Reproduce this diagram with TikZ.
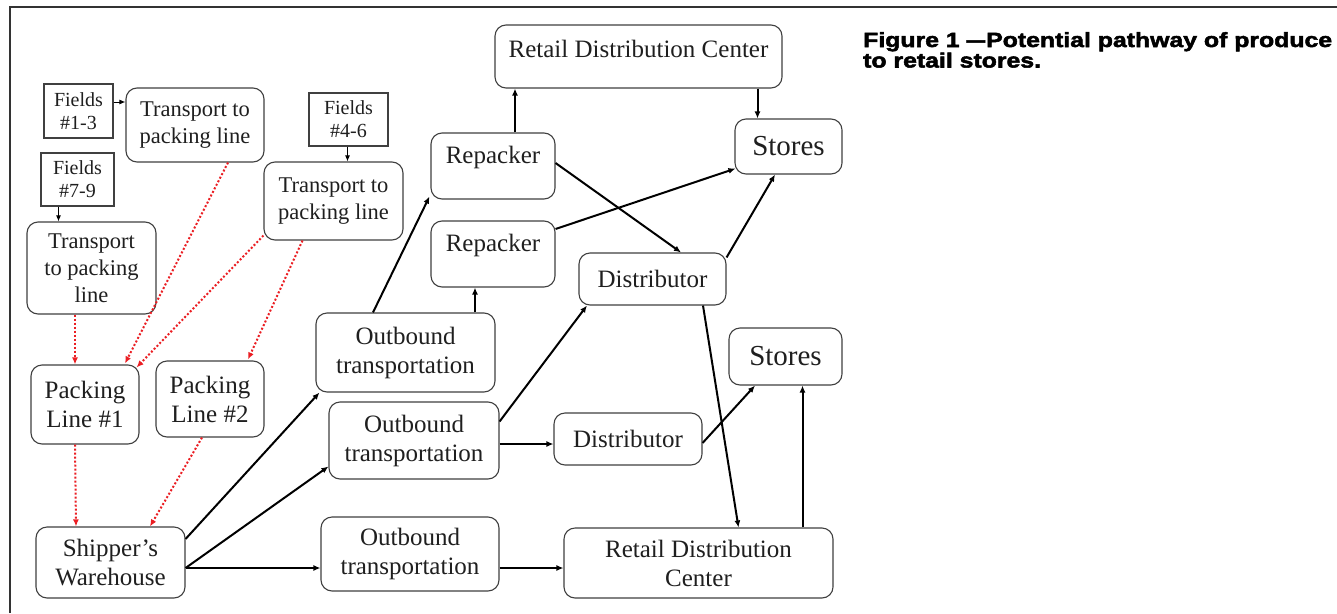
\documentclass[tikz,border=0pt]{standalone}
\usepackage{fontspec}
\usepackage{graphicx}
\setmainfont{Liberation Serif}
\newfontfamily\capfont{Liberation Sans}[FakeStretch=1.21,BoldFeatures={FakeBold=2.5}]
\usetikzlibrary{arrows.meta,calc}
\newcommand\fntT{\fontsize{22.5}{27}\selectfont}
\newcommand\fntM{\fontsize{25}{29}\selectfont}
\newcommand\fntF{\fontsize{20}{23}\selectfont}
\newcommand\fntS{\fontsize{29}{32}\selectfont}
\definecolor{redline}{RGB}{235,30,35}
\tikzset{
  rbox/.style={draw=black!75, line width=1.1pt, rounded corners=11pt, inner sep=0pt, align=center, text=black!88, font=\fntM},
  sbox/.style={draw=black!75, line width=1.1pt, inner sep=0pt, align=center, text=black!88, font=\fntF},
  arr/.style={draw=black, line width=2pt, -{Latex[length=7pt,width=6pt]}},
  tarr/.style={draw=black, line width=1pt, -{Latex[length=6pt,width=5pt]}},
  rarr/.style={draw=redline, line width=2pt, dash pattern=on 2pt off 2pt, -{Latex[length=7pt,width=6pt]}},
  lbl/.style={inner sep=0pt, text=black!88, font=\fntM},
  captxt/.style={inner sep=0pt, anchor=base west, font=\capfont\bfseries\fontsize{20.5}{20.5}\selectfont}
}
\begin{document}
\begin{tikzpicture}[x=1pt,y=-1pt]
\fill[white] (0,0) rectangle (1337,613);
\useasboundingbox (0,0) rectangle (1337,613);
% frame
\draw[black!80, line width=1.5pt] (10,613) -- (10,7) -- (1337,7);

% field boxes and transport
\node[sbox, minimum width=69, minimum height=54] (f13) at (78.5,111) {Fields\\\#1-3};
\node[rbox, font=\fntT, minimum width=138, minimum height=74] (t1) at (195,125) {Transport to\\packing line};
\node[sbox, minimum width=79, minimum height=53] (f46) at (348.5,119.5) {Fields\\\#4-6};
\node[rbox, font=\fntT, minimum width=139, minimum height=78] (t2) at (333.5,201) {Transport to\\packing line};
\node[sbox, minimum width=73, minimum height=53] (f79) at (77.5,179.5) {Fields\\\#7-9};
\node[rbox, font=\fntT, minimum width=129, minimum height=92] (t3) at (91.5,268) {Transport\\to packing\\line};

% packing lines and warehouse
\node[rbox, minimum width=108, minimum height=79] (p1) at (85,404.5) {Packing\\Line \#1};
\node[rbox, minimum width=108, minimum height=76] (p2) at (210,399) {Packing\\Line \#2};
\node[rbox, minimum width=149, minimum height=71] (sw) at (110.5,562.5) {Shipper’s\\Warehouse};

% outbound
\node[rbox, minimum width=179, minimum height=79] (o1) at (405.5,352.5) {Outbound\\transportation};
\node[rbox, minimum width=170, minimum height=77] (o2) at (414,440.5) {Outbound\\transportation};
\node[rbox, minimum width=178, minimum height=74] (o3) at (410,554) {Outbound\\transportation};

% repackers etc.
\node[rbox, minimum width=124, minimum height=66] (r1) at (493,166) {};
\path ([yshift=9pt]r1.center) node[lbl] (r1t) {Repacker};
\node[rbox, minimum width=124, minimum height=66] (r2) at (493,254) {};
\path ([yshift=9pt]r2.center) node[lbl] (r2t) {Repacker};
\node[rbox, minimum width=287, minimum height=63] (rdc1) at (638.5,56.5) {};
\path ([yshift=8pt]rdc1.center) node[lbl] (rdc1t) {Retail Distribution Center};
\node[rbox, font=\fntS, minimum width=107, minimum height=55] (s1) at (788.5,146.5) {Stores};
\node[rbox, minimum width=147, minimum height=52] (d1) at (652.5,279) {Distributor};
\node[rbox, font=\fntS, minimum width=113, minimum height=57] (s2) at (785.5,356.5) {Stores};
\node[rbox, minimum width=148, minimum height=52] (d2) at (628,439) {Distributor};
\node[rbox, minimum width=269, minimum height=70] (rdc2) at (698.5,563) {Retail Distribution\\Center};

% caption
\node[captxt] (cap1) at (863,47) {Figure 1 \scalebox{0.75}[1]{—}\kern1pt Potential pathway of produce};
\node[captxt] (cap2) at (863,67.5) {to retail stores.};

% thin black arrows
\draw[tarr] ([yshift=9pt]f13.east) -- ([yshift=9pt]f13.east -| t1.west);
\draw[tarr] ([xshift=-1pt]f46.south) -- ([xshift=-1pt]f46.south |- t2.north);
\draw[tarr] ([xshift=-19pt]f79.south) -- ([xshift=-19pt]f79.south |- t3.north);

% red dotted arrows
\draw[rarr] ([xshift=-16.5pt]t3.south) -- ([xshift=-16.5pt]t3.south |- p1.north);
\draw[rarr] ([xshift=33pt]t1.south) -- ([xshift=40pt,yshift=1pt]p1.north);
\draw[rarr] ([yshift=5pt]t2.south west) -- ([xshift=-3pt,yshift=-3pt]p1.north east);
\draw[rarr] ([xshift=-31pt]t2.south) -- ([xshift=38pt,yshift=1pt]p2.north);
\draw[rarr] ([xshift=-10pt]p1.south) -- ([xshift=-34.5pt]sw.north);
\draw[rarr] ([xshift=-8pt]p2.south) -- ([xshift=39.5pt]sw.north);

% thick black arrows
\draw[arr] ([yshift=23.5pt]sw.east) -- ([xshift=4pt]o1.south west);
\draw[arr] ([yshift=-5.5pt]sw.east) -- ([yshift=-26pt]o2.west);
\draw[arr] ([yshift=-5.5pt]sw.east) -- ([yshift=-5.5pt]sw.east -| o3.west);
\draw[arr] ([xshift=-32.5pt]o1.north) -- ([xshift=-1pt,yshift=3pt]r1.south west);
\draw[arr] ([xshift=69.5pt]o1.north) -- ([xshift=69.5pt]o1.north |- r2.south);
\draw[arr] ([yshift=19pt]o2.east) -- ([xshift=8.5pt]d1.south west);
\draw[arr] ([yshift=-3.5pt]o2.east) -- ([yshift=-3.5pt]o2.east -| d2.west);
\draw[arr] ([yshift=-14pt]o3.east) -- ([yshift=-14pt]o3.east -| rdc2.west);
\draw[arr] ([xshift=22pt]r1.north) -- ([xshift=22pt]r1.north |- rdc1.south);
\draw[arr] ([xshift=119pt]rdc1.south) -- ([xshift=119pt]rdc1.south |- s1.north);
\draw[arr] ([yshift=3pt]r1.east) -- ([xshift=28.5pt]d1.north);
\draw[arr] ([yshift=25pt]r2.east) -- ([xshift=1pt,yshift=6pt]s1.south west);
\draw[arr] ([yshift=-5pt]d1.north east) -- ([xshift=-13.5pt]s1.south);
\draw[arr] ([xshift=50.5pt]d1.south) -- ([xshift=40pt]rdc2.north);
\draw[arr] ([yshift=-4pt]d2.east) -- ([xshift=-30.5pt]s2.south);
\draw[arr] ([xshift=104pt]rdc2.north) -- ([xshift=104pt]rdc2.north |- s2.south);
\end{tikzpicture}
\end{document}
